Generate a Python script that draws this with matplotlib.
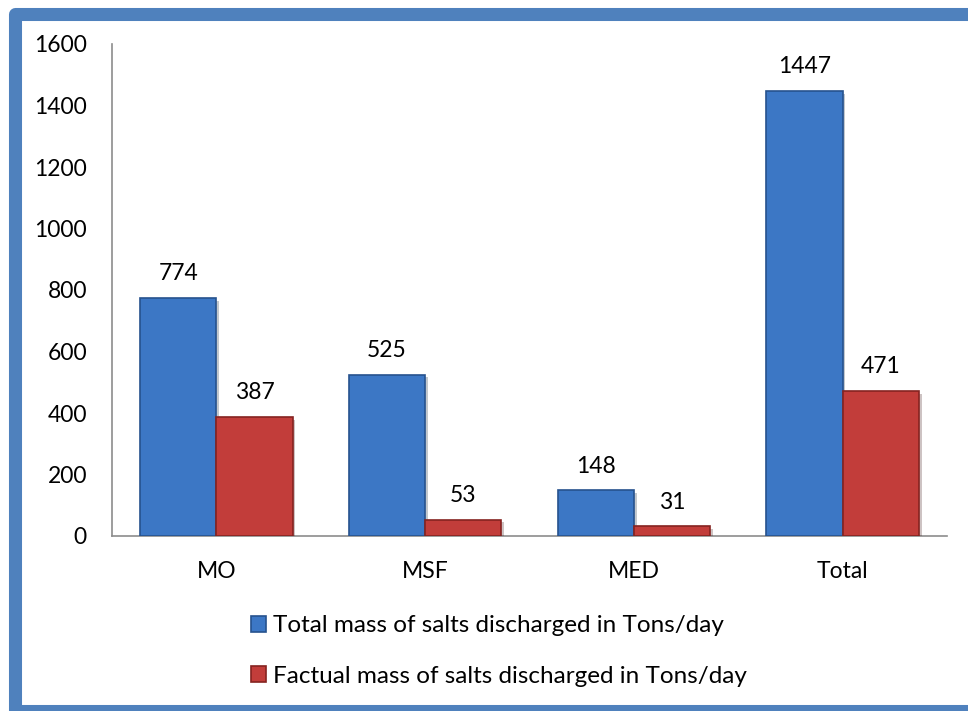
import matplotlib.pyplot as plt
import matplotlib.patheffects as pe
import numpy as np
from matplotlib.patches import Rectangle

# data
categories = ['MO', 'MSF', 'MED', 'Total']
total_mass = [774, 525, 148, 1447]
factual_mass = [387, 53, 31, 471]
series_names = ['Total mass of salts discharged in Tons/day',
                'Factual mass of salts discharged in Tons/day']

plt.rcParams['font.family'] = ['Lato', 'DejaVu Sans']

fig = plt.figure(figsize=(9.68, 7.11), dpi=100)
ax = fig.add_axes([112 / 968, 1 - 536 / 711, (947 - 112) / 968, (536 - 44) / 711])

shadow = [pe.SimplePatchShadow(offset=(2, -2), alpha=0.25), pe.Normal()]
x = np.arange(len(categories))
w = 0.365
b1 = ax.bar(x - w / 2, total_mass, w, color='#3C77C5', edgecolor='#26528E', linewidth=1.2,
            label=series_names[0], zorder=3, path_effects=shadow)
b2 = ax.bar(x + w / 2, factual_mass, w, color='#C23D3A', edgecolor='#852320', linewidth=1.2,
            label=series_names[1], zorder=3, path_effects=shadow)

# value labels
for bars in (b1, b2):
    for r in bars:
        ax.annotate(f'{r.get_height():.0f}', (r.get_x() + r.get_width() / 2, r.get_height()),
                    xytext=(0, 10), textcoords='offset points', ha='center', va='bottom',
                    fontsize=16.5)

ax.set_xlim(-0.5, 3.5)
ax.set_ylim(0, 1600)
ax.set_yticks(range(0, 1601, 200))
ax.set_xticks(x)
ax.set_xticklabels(categories)
ax.tick_params(axis='both', length=0, labelsize=16.5)
ax.tick_params(axis='y', pad=18)
ax.tick_params(axis='x', pad=18)
for s in ['top', 'right']:
    ax.spines[s].set_visible(False)
for s in ['left', 'bottom']:
    ax.spines[s].set_color('#8C8C8C')
    ax.spines[s].set_linewidth(1.2)

leg = fig.legend(handles=[b1, b2], loc='center', bbox_to_anchor=(499 / 968, 1 - 651 / 711),
                 ncol=1, frameon=False, fontsize=17.5, handlelength=0.62, handleheight=0.62,
                 handletextpad=0.3, labelspacing=1.2)
for h in leg.legend_handles:
    h.set_path_effects([])

# blue frame around the chart (runs off the right and bottom edges)
y0 = 1 - 710.5 / 711
frame = Rectangle((15.5 / 968, y0), (985 - 15.5) / 968, (1 - 14 / 711) - y0,
                  transform=fig.transFigure, facecolor='none', edgecolor='#4F81BD',
                  linewidth=9.4, joinstyle='round', clip_on=False)
fig.patches.append(frame)

fig.savefig('out.png', dpi=100)
